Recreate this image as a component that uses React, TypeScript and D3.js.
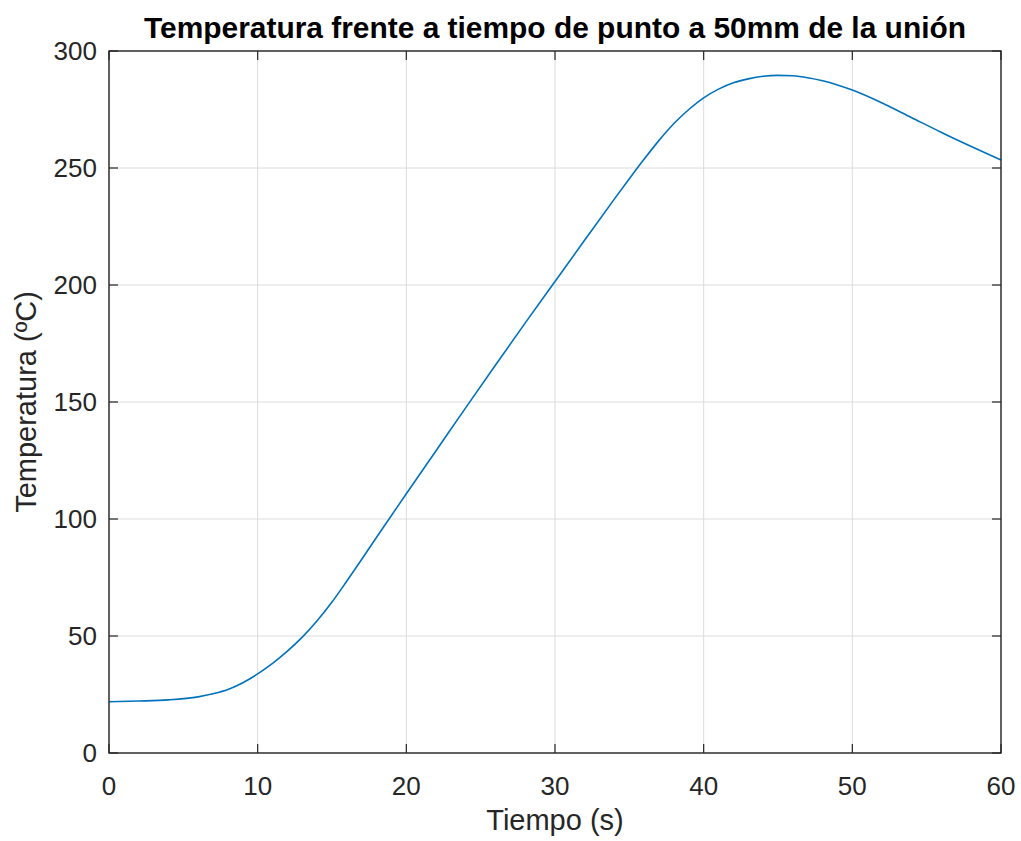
import React from "react";
import * as d3 from "d3";

const timeS = [0, 2, 4, 6, 7, 8, 9, 10, 11, 12, 13, 14, 15, 16, 17, 18, 19, 20, 22, 24, 26, 28, 30, 32, 34, 35, 36, 37, 38, 39, 40, 41, 42, 43, 44, 45, 46, 47, 48, 49, 50, 52, 54, 56, 58, 60];
const tempC = [21.9, 22.2, 22.7, 24.0, 25.3, 27.1, 30.0, 33.8, 38.3, 43.5, 49.5, 56.5, 64.5, 73.5, 82.8, 92.2, 101.5, 110.8, 129.2, 147.6, 165.8, 183.8, 201.5, 219.2, 236.8, 245.4, 253.8, 261.8, 269.0, 275.0, 280.0, 283.7, 286.4, 288.1, 289.2, 289.6, 289.4, 288.6, 287.3, 285.5, 283.3, 277.8, 271.5, 265.2, 259.2, 253.4];
const xTicks = [0, 10, 20, 30, 40, 50, 60];
const yTicks = [0, 50, 100, 150, 200, 250, 300];
const title = "Temperatura frente a tiempo de punto a 50mm de la unión";
const xLabel = "Tiempo (s)";
const yLabel = "Temperatura (ºC)";

export default function App() {
  const W = 1021, H = 841;
  const L = 109, R = 1001, T = 51, B = 753;
  const x = d3.scaleLinear().domain([0, 60]).range([L, R]);
  const y = d3.scaleLinear().domain([0, 300]).range([B, T]);
  const pts = timeS.map((t, i) => [t, tempC[i]] as [number, number]);
  const line = d3.line<[number, number]>().x(d => x(d[0])).y(d => y(d[1])).curve(d3.curveMonotoneX);
  const axisColor = "#262626";
  const font = "Arial, 'Liberation Sans', Helvetica, sans-serif";
  const tick = 9;
  return (
    <svg width={W} height={H} style={{ position: "absolute", left: 0, top: 0, background: "#fff" }} fontFamily={font}>
      <rect x={0} y={0} width={W} height={H} fill="#fff" />
      {xTicks.map(t => (
        <line key={"gx" + t} x1={x(t)} x2={x(t)} y1={T} y2={B} stroke="#dcdcdc" strokeWidth={1} />
      ))}
      {yTicks.map(t => (
        <line key={"gy" + t} x1={L} x2={R} y1={y(t)} y2={y(t)} stroke="#dcdcdc" strokeWidth={1} />
      ))}
      <path d={line(pts) || ""} fill="none" stroke="#0072BD" strokeWidth={1.6} />
      <rect x={L} y={T} width={R - L} height={B - T} fill="none" stroke={axisColor} strokeWidth={1.4} />
      {xTicks.map(t => (
        <g key={"tx" + t}>
          <line x1={x(t)} x2={x(t)} y1={B} y2={B - tick} stroke={axisColor} strokeWidth={1.2} />
          <line x1={x(t)} x2={x(t)} y1={T} y2={T + tick} stroke={axisColor} strokeWidth={1.2} />
          <text x={x(t)} y={795} textAnchor="middle" fontSize={26} fill={axisColor}>{t}</text>
        </g>
      ))}
      {yTicks.map(t => (
        <g key={"ty" + t}>
          <line x1={L} x2={L + tick} y1={y(t)} y2={y(t)} stroke={axisColor} strokeWidth={1.2} />
          <line x1={R} x2={R - tick} y1={y(t)} y2={y(t)} stroke={axisColor} strokeWidth={1.2} />
          <text x={97} y={y(t)} dy="0.36em" textAnchor="end" fontSize={26} fill={axisColor}>{t}</text>
        </g>
      ))}
      <text x={(L + R) / 2} y={830} textAnchor="middle" fontSize={29} fill={axisColor}>{xLabel}</text>
      <text transform={`translate(36, ${(T + B) / 2}) rotate(-90)`} textAnchor="middle" fontSize={29} fill={axisColor}>{yLabel}</text>
      <text x={(L + R) / 2} y={38} textAnchor="middle" fontSize={29} fontWeight="bold" fill="#000" textLength={822} lengthAdjust="spacingAndGlyphs">{title}</text>
    </svg>
  );
}
